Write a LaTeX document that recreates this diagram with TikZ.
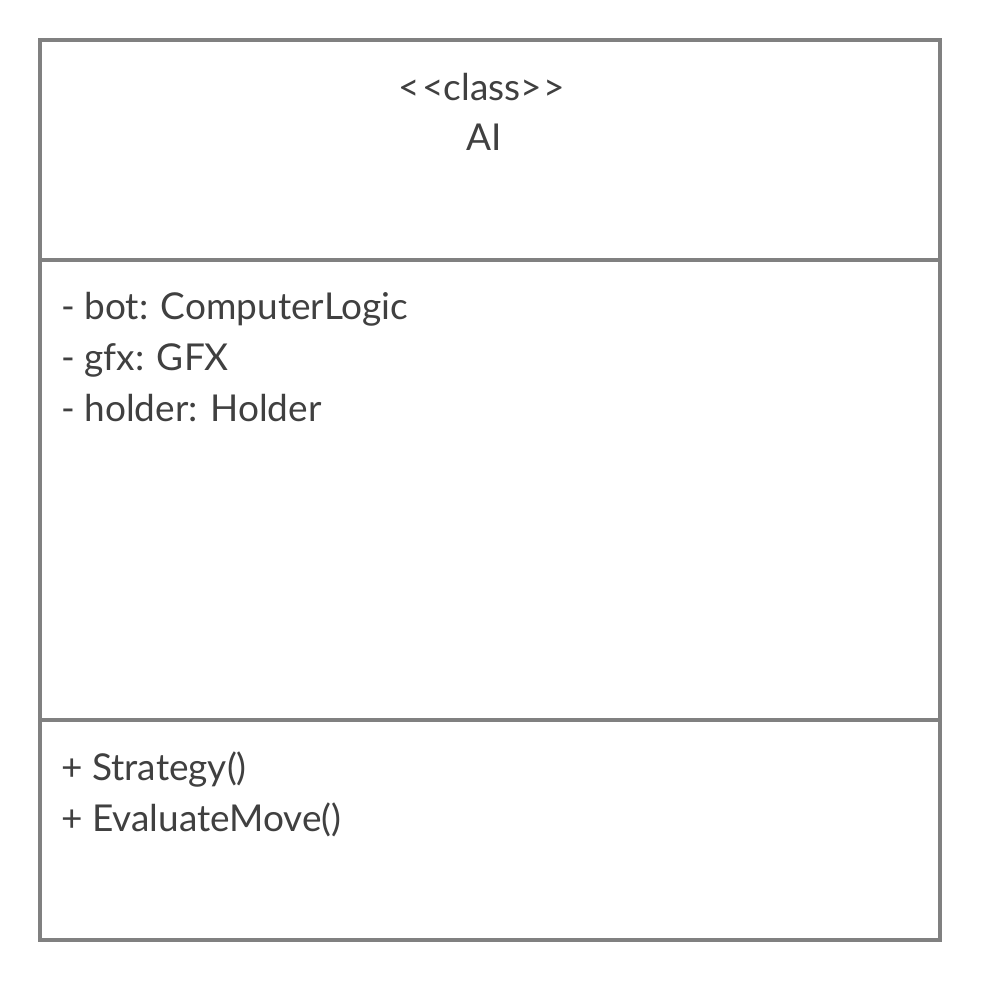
\documentclass[tikz,border=0pt]{standalone}
\usepackage{fontspec}
\setmainfont{Lato}
\definecolor{frame}{HTML}{808080}
\definecolor{txt}{HTML}{404040}
\begin{document}
\begin{tikzpicture}[x=1pt,y=-1pt,
  boxline/.style={draw=frame,line width=4pt},
  lbl/.style={inner sep=0pt,text=txt,font=\fontsize{37}{44}\selectfont},
  member/.style={lbl,anchor=base west}]
\useasboundingbox[fill=white] (0,0) rectangle (981,981);
\node[boxline,minimum width=900pt,minimum height=900pt,inner sep=0pt,outer sep=0pt,anchor=center] (box) at (490,490) {};
\coordinate (d1l) at (40,260); \coordinate (d1r) at (940,260);
\coordinate (d2l) at (40,720); \coordinate (d2r) at (940,720);
\draw[boxline] (d1l) -- (d1r);
\draw[boxline] (d2l) -- (d2r);
\node[lbl,anchor=base] (stereo) at (482,101) {<\kern2pt<class>\kern2pt>};
\node[lbl,anchor=base] (name) at (484,151) {AI};
\node[member] (a1) at (61,319) {- bot: ComputerLogic};
\node[member] (a2) at (61,370) {- gfx: GFX};
\node[member] (a3) at (61,421) {- holder: Holder};
\node[member] (m1) at (61,780) {+ Strategy()};
\node[member] (m2) at (61,831) {+ EvaluateMove()};
\end{tikzpicture}
\end{document}
